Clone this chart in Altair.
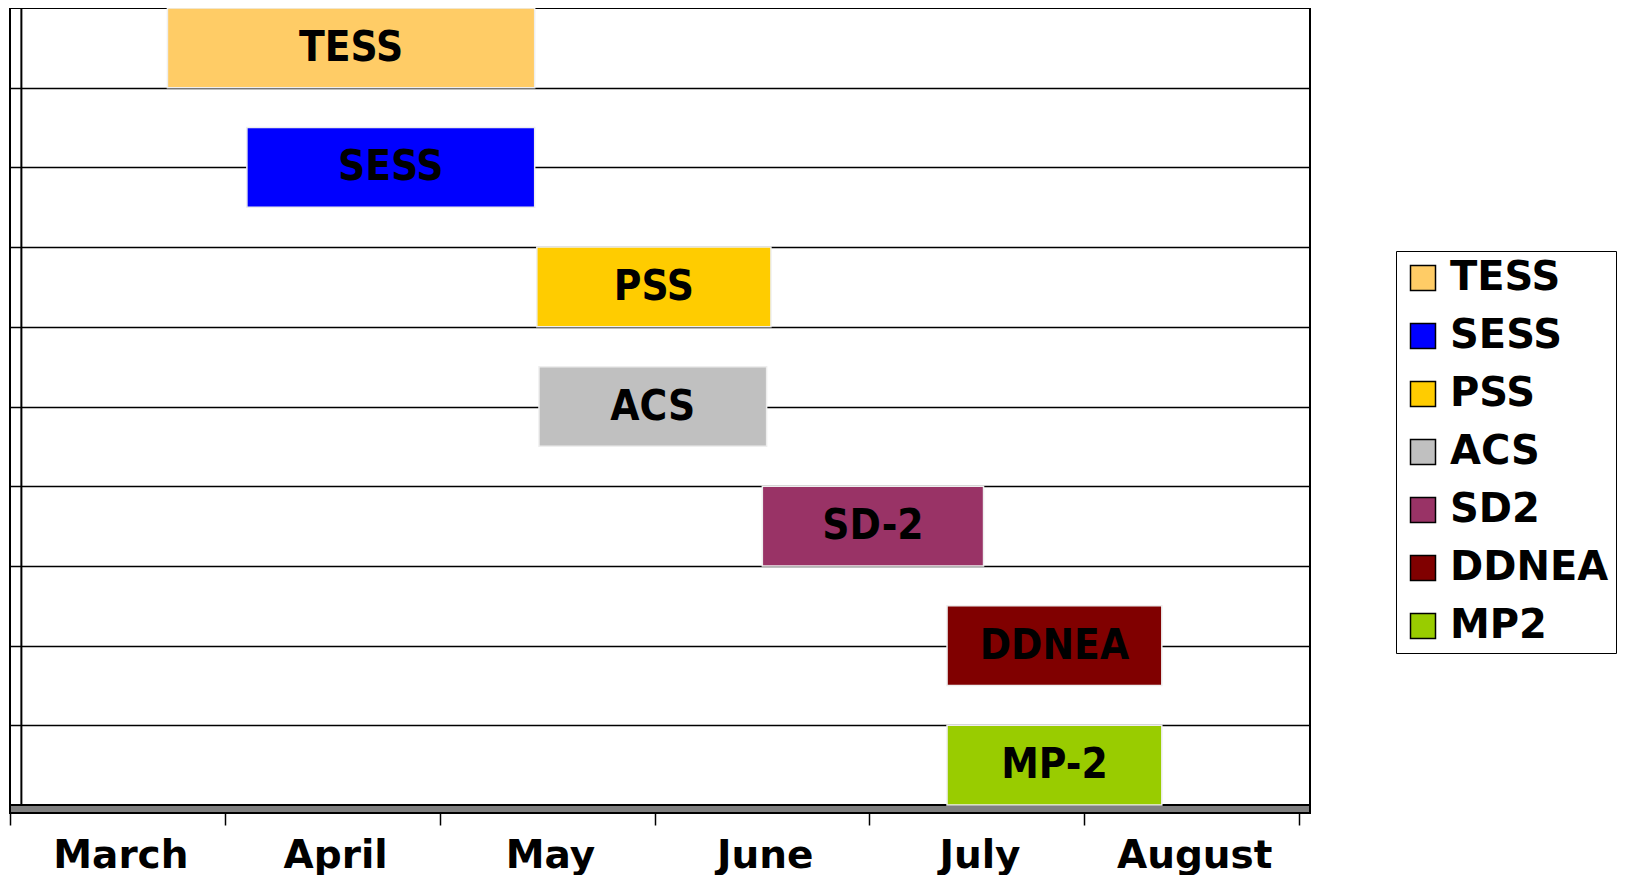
import altair as alt
import pandas as pd

# ---- data ----
tasks = ["TESS", "SESS", "PSS", "ACS", "SD-2", "DDNEA", "MP-2"]
legend_names = ["TESS", "SESS", "PSS", "ACS", "SD2", "DDNEA", "MP2"]
colors = ["#FFCC66", "#0000FF", "#FFCC00", "#C0C0C0", "#993366", "#800000", "#99CC00"]
# start / end in months counted from 1 March
starts = [0.68, 1.05, 2.40, 2.41, 3.45, 4.31, 4.31]
ends = [2.39, 2.39, 3.49, 3.47, 4.48, 5.31, 5.31]
# row position (top of bar) in grid bands counted from the top
row_tops = [0, 1.5, 3, 4.5, 6, 7.5, 9]
months = ["March", "April", "May", "June", "July", "August"]

df = pd.DataFrame({
    "task": tasks,
    "legend": legend_names,
    "start": starts,
    "end": ends,
    "top": row_tops,
    "bot": [t + 1 for t in row_tops],
})
df["mid_x"] = (df["start"] + df["end"]) / 2
df["mid_y"] = df["top"] + 0.5

# frame (3-D floor / back wall)
floor_df = pd.DataFrame({"x0": [-0.053], "x1": [6], "y0": [10], "y1": [10.1]})
wall_df = pd.DataFrame({"x": [0], "y0": [0], "y1": [10]})

xs = alt.Scale(domain=[-0.053, 6], nice=False, zero=False)
ys = alt.Scale(domain=[0, 10.1], nice=False, zero=False, reverse=True)

label_expr = "datum.value < 6 ? [" + ",".join("'%s'" % m for m in months) + "][datum.value] : ''"

x_axis = alt.Axis(
    values=[0, 1, 2, 3, 4, 5, 6], title=None, domain=False, grid=False,
    ticks=True, tickSize=12, tickWidth=1.5, tickColor="black", tickOffset=-11,
    labelExpr=label_expr, labelOffset=110, labelAlign="center", labelFlush=False,
    labelOverlap=False, labelBound=False, labelPadding=11,
    labelFont="DejaVu Sans", labelFontWeight="bold", labelFontSize=39, labelColor="black",
)
y_axis = alt.Axis(
    values=[1, 2, 3, 4, 5, 6, 7, 8, 9], title=None, domain=False, ticks=False,
    labels=False, grid=True, gridColor="black", gridWidth=1.5,
)

floor = alt.Chart(floor_df).mark_rect(fill="#808080", stroke="black", strokeWidth=2).encode(
    x=alt.X("x0:Q", scale=xs, axis=x_axis), x2="x1:Q",
    y=alt.Y("y0:Q", scale=ys, axis=y_axis), y2="y1:Q",
)

wall = alt.Chart(wall_df).mark_rule(color="black", strokeWidth=2).encode(
    x=alt.X("x:Q", scale=xs), y=alt.Y("y0:Q", scale=ys), y2="y1:Q",
)

bars = alt.Chart(df).mark_rect(stroke="#EEEEEE", strokeWidth=1.5).encode(
    x=alt.X("start:Q", scale=xs), x2="end:Q",
    y=alt.Y("top:Q", scale=ys), y2="bot:Q",
    color=alt.Color(
        "legend:N",
        scale=alt.Scale(domain=legend_names, range=colors),
        legend=alt.Legend(
            title=None, orient="none", legendX=1386, legendY=243,
            strokeColor="black", fillColor="white", padding=7,
            symbolType="square", symbolSize=625, symbolStrokeColor="black",
            symbolStrokeWidth=1.5, symbolOpacity=1, labelOffset=7, rowPadding=18,
            labelFont="DejaVu Sans", labelFontWeight="bold", labelFontSize=40,
            labelColor="black", labelLimit=400,
        ),
    ),
)

texts = alt.Chart(df).mark_text(
    font="DejaVu Sans Condensed, DejaVu Sans", fontWeight="bold", fontSize=42,
    color="black", align="center", baseline="middle",
).encode(
    x=alt.X("mid_x:Q", scale=xs), y=alt.Y("mid_y:Q", scale=ys), text="task:N",
)

chart = alt.layer(floor, wall, bars, texts).properties(
    width=1300, height=805,
    autosize=alt.AutoSizeParams(type="none"),
    padding={"left": 2, "top": 0, "right": 312, "bottom": 62},
).configure_view(stroke="black", strokeWidth=2)

chart.save("out.html", embed_options={"renderer": "svg", "actions": False})
